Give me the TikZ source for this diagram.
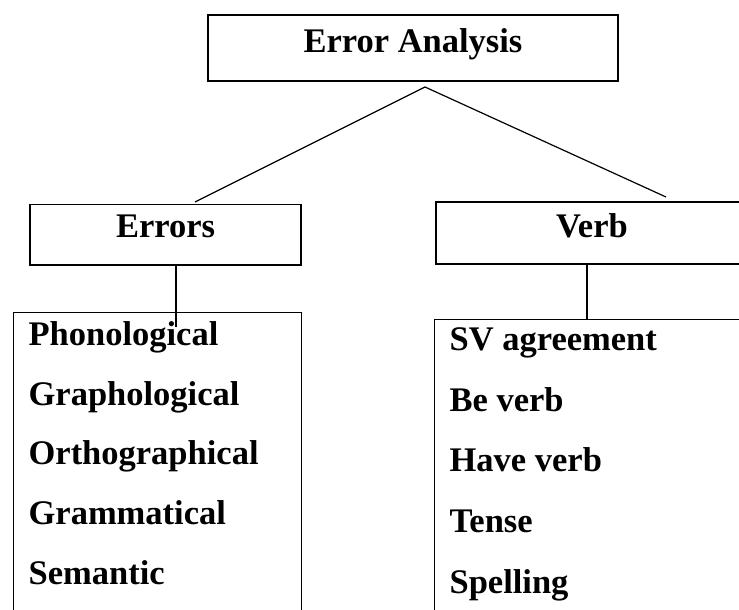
\documentclass[tikz,border=0pt]{standalone}
\usepackage{fontspec}
\setmainfont{Liberation Serif}
\usepackage{tikz}
\usetikzlibrary{positioning,calc}

\begin{document}
\begin{tikzpicture}[
  x=1pt,y=-1pt,
  line width=1.2pt,
  txt/.style={font=\fontsize{34.5}{40}\selectfont\bfseries,inner sep=0pt},
  head/.style={txt,draw,anchor=base},
  list/.style={draw,anchor=north west,inner sep=0pt},
  item/.style={txt,anchor=base west}
]
\useasboundingbox (0,0) rectangle (739,610);
\clip (0,0) rectangle (739,610);
\node[head,minimum width=410pt,text height=38pt,text depth=28pt] (analysis) at (413,53) {Error Analysis};
\node[head,minimum width=271pt,text height=32.5pt,text depth=28pt] (errors) at (165.5,237) {Errors};
\node[head,minimum width=312pt,text height=35pt,text depth=27pt] (verb) at (592,237) {Verb};
\node[list,minimum width=288pt,minimum height=330pt] (errlist) at (13,312) {};
\node[list,minimum width=330pt,minimum height=330pt] (verblist) at (434,319) {};
\node[item] (phon) at (28,345) {Phonological};
\node[item] (graph) at (28,405) {Graphological};
\node[item] (ortho) at (28,464) {Orthographical};
\node[item] (gram) at (28,524) {Grammatical};
\node[item] (sem) at (28,584) {Semantic};
\node[item] (sv) at (449,350) {SV agreement};
\node[item] (be) at (449,411) {Be verb};
\node[item] (have) at (449,471) {Have verb};
\node[item] (tense) at (449,532) {Tense};
\node[item] (spell) at (449,593) {Spelling};
\coordinate (fork) at (425,87);
\coordinate (errtop) at (195,202);
\coordinate (verbtop) at (666,197);
\coordinate (errlink) at (176,327);
\coordinate (verblink) at (587,320);
\draw (fork)--(errtop);
\draw (fork)--(verbtop);
\draw (errors.south -| errlink)--(errlink);
\draw (verb.south -| verblink)--(verblink);
\end{tikzpicture}
\end{document}
